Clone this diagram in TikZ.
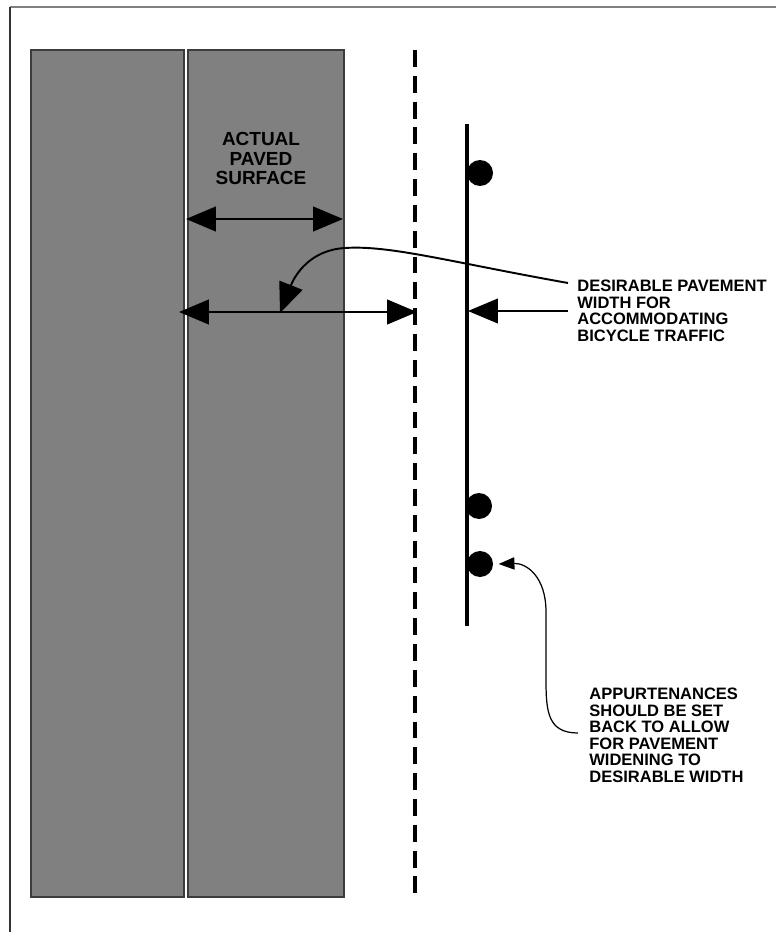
\documentclass[tikz,border=0pt]{standalone}
\usepackage{fontspec}
\setmainfont{Liberation Sans}
\usetikzlibrary{arrows.meta}
\definecolor{paved}{HTML}{808080}
\definecolor{pavededge}{HTML}{3C3C3C}

\tikzset{
  pavement/.style={fill=paved,draw=pavededge,line width=0.8pt},
  bighead/.style={Triangle[length=17pt,width=14pt]},
  dimline/.style={line width=1.3pt,{Triangle[length=17pt,width=14pt]}-{Triangle[length=17pt,width=14pt]}},
  leader/.style={line width=1.1pt,-{Triangle[length=17pt,width=14pt]}},
  thinleader/.style={line width=0.7pt,-{Triangle[length=9pt,width=7pt]}},
  note/.style={font=\fontsize{9.4pt}{9.35pt}\selectfont\bfseries,align=left,inner sep=0pt,anchor=north west},
  post/.style={circle,fill=black,inner sep=0pt,minimum size=0.52cm}
}

\begin{document}
\begin{tikzpicture}[x=0.02cm,y=-0.02cm]
    \useasboundingbox (0,0) rectangle (776,932);
    % --- frame
    \draw[gray,line width=1.1pt] (10,7) -- (776,7);
    \draw[black!80,line width=0.8pt] (10,7) -- (10,932);
    % --- paved surface (two strips)
    \draw[pavement] (31,50) rectangle (184,897);
    \draw[pavement] (188,50) rectangle (344,897);
    % --- edge line and posts
    \draw[line width=2.3pt,dash pattern=on 9.6pt off 5.1pt] (415,50) -- (415,897);
    \draw[line width=2.5pt] (467,124) -- (467,626);
    \node[post] (postA) at (480,173) {};
    \node[post] (postB) at (479,506) {};
    \node[post] (postC) at (480,564) {};
    % --- labels
    \node[font=\fontsize{10.8pt}{11.05pt}\selectfont\bfseries,align=center,inner sep=0pt,anchor=north]
      (actual) at (261,132) {ACTUAL\\PAVED\\SURFACE};
    \node[note] (desirable) at (577,280)
      {DESIRABLE PAVEMENT\\WIDTH FOR\\ACCOMMODATING\\BICYCLE TRAFFIC};
    \node[note] (appurt) at (589,688)
      {APPURTENANCES\\SHOULD BE SET\\BACK TO ALLOW\\FOR PAVEMENT\\WIDENING TO\\DESIRABLE WIDTH};
    % --- dimension arrows
    \coordinate (actL) at (186,219);
    \coordinate (actR) at (343,219);
    \draw[dimline] (actL) -- (actR);
    \coordinate (desL) at (179,312);
    \coordinate (desR) at (417,312);
    \draw[dimline] (desL) -- (desR);
    % --- leaders from the notes
    \coordinate (desTail) at (568,283);
    \coordinate (desTip) at (280,313);
    \draw[leader] (desTail) .. controls (450,262) and (390,245) .. (345,248)
      .. controls (310,250) and (295,275) .. (desTip);
    \coordinate (poleTail) at (568,311);
    \coordinate (poleTip) at (468,311);
    \draw[leader] (poleTail) -- (poleTip);
    \coordinate (appTail) at (578,733);
    \draw[thinleader] (appTail) .. controls (548,733) and (546,712) .. (546,680)
      -- (546,612) .. controls (546,576) and (526,563) .. ([xshift=3pt]postC.east);
\end{tikzpicture}
\end{document}
